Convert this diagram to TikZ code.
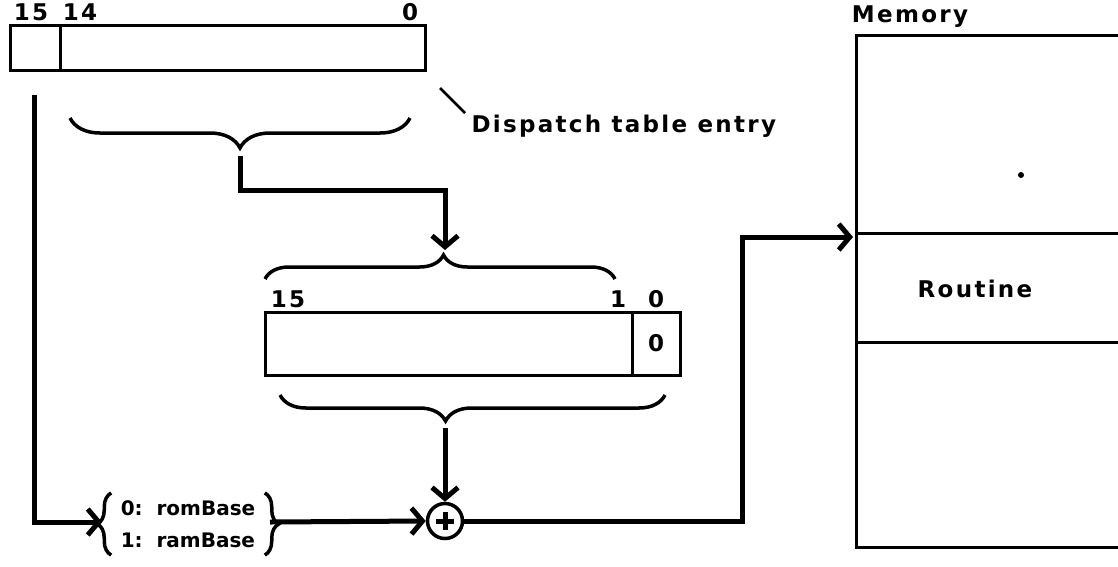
\documentclass[tikz,border=0pt]{standalone}
\usepackage{fontspec}
\setmainfont{DejaVu Sans}
\newfontfamily\chifont[LetterSpace=10]{DejaVu Sans}
\usetikzlibrary{arrows.meta, decorations.pathreplacing, calc}

\begin{document}
\begin{tikzpicture}[x=1pt, y=-1pt, line width=3pt,
  lbl/.style={font=\chifont\fontsize{23}{25}\selectfont\bfseries, inner sep=0pt},
  flow/.style={line width=5pt, -{Straight Barb[length=11pt, width=26pt]}},
  brc/.style={decorate, line width=3.5pt, decoration={brace, amplitude=#1}},
  brc/.default=26pt]
  \useasboundingbox (0,0) rectangle (1118,566);

  % dispatch table entry
  \coordinate (e1) at (10,25);
  \coordinate (e2) at (425,70);
  \draw (e1) rectangle (e2);
  \draw (60,25) -- (60,70);
  \node[lbl] (e15) at (31,12) {15};
  \node[lbl] (e14) at (80,12) {14};
  \node[lbl] (e0) at (410,12) {0};
  \draw[line width=2.5pt] (440,88) -- (465,113);
  \node[lbl, anchor=west] (entry) at (470,126) {Dispatch table entry};
  \draw[brc=30pt] (410,118) -- (70,118);
  \coordinate (tip1) at (240,156);

  % offset word
  \draw[brc=24pt, decoration={aspect=0.51}] (265,279) -- (615,279);
  \coordinate (top2) at (445,250);
  \node[lbl] (o15) at (288,299) {15};
  \node[lbl] (o1) at (618,299) {1};
  \node[lbl] (o0) at (656,299) {0};
  \draw (265,312) rectangle (680,375);
  \draw (632,312) -- (632,375);
  \node[lbl] (zero) at (656,343) {0};
  \draw[brc=26pt, decoration={aspect=0.57}] (665,395) -- (280,395);
  \coordinate (tip3) at (445,428);

  % base select and adder
  \node[lbl, align=left, font=\fontsize{20}{32}\selectfont\bfseries]
    (sel) at (188,524) {0:\ \ romBase\\1:\ \ ramBase};
  \draw[brc=14pt] ($(sel.south west)+(-8,6)$) -- ($(sel.north west)+(-8,-6)$);
  \draw[brc=14pt] ($(sel.north east)+(8,-6)$) -- ($(sel.south east)+(8,6)$);
  \coordinate (selin) at (102,522);
  \coordinate (selout) at (270,522);
  \node[draw, circle, line width=3.5pt, minimum size=35pt, inner sep=0pt] (sum) at (445,521) {};
  \draw[line width=5pt] (sum.center) ++(-9,0) -- ++(18,0);
  \draw[line width=5pt] (sum.center) ++(0,-9) -- ++(0,18);

  % memory
  \draw (1118,35) -- (856,35) -- (856,547) -- (1118,547);
  \draw (856,233) -- (1118,233);
  \draw (856,342) -- (1118,342);
  \node[lbl] (mem) at (910,17) {Memory};
  \node[lbl] (rout) at (975,289) {Routine};
  \fill (1021,175) circle (3);
  \coordinate (memin) at (853,237);

  % connectors
  \draw[flow] (tip1) -- ++(0,34) -| (top2);
  \draw[flow] (tip3) -- (sum.north);
  \draw[flow] (34,95) |- (selin);
  \draw[flow] (selout) -- (sum.west);
  \draw[flow] (sum.east) -- (742,521) |- (memin);
\end{tikzpicture}
\end{document}
